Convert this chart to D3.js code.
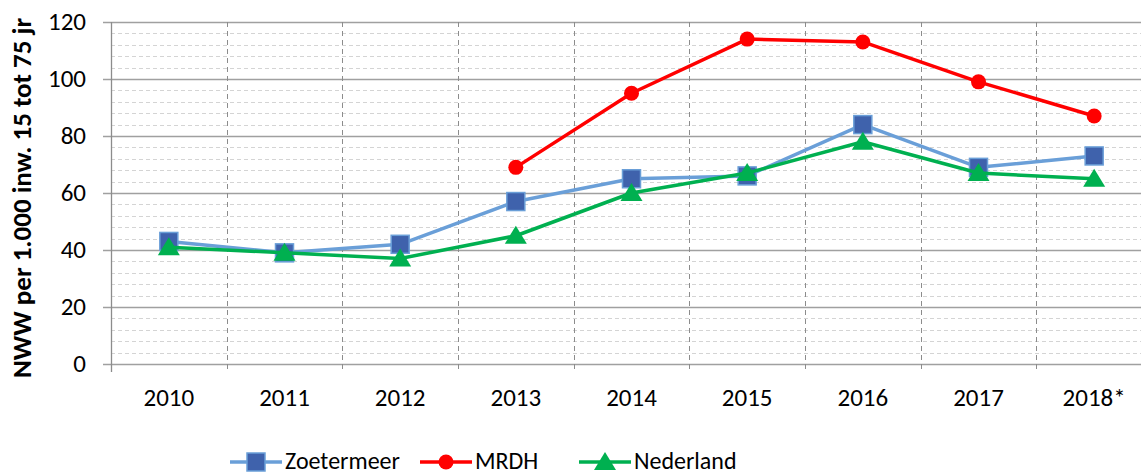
<!DOCTYPE html>
<html lang="nl">
<head>
<meta charset="utf-8">
<script src="https://cdn.jsdelivr.net/npm/d3@7"></script>
<style>
  body { margin: 0; background: #fff; }
  text { font-family: Carlito, Calibri, "Liberation Sans", sans-serif; }
</style>
</head>
<body>
<svg id="chart" width="1141" height="475"></svg>
<script>
var years = ["2010", "2011", "2012", "2013", "2014", "2015", "2016", "2017", "2018*"];
var zoetermeer = [43, 39, 42, 57, 65, 66, 84, 69, 73];
var mrdh = [null, null, null, 69, 95, 114, 113, 99, 87];
var nederland = [41, 39, 37, 45, 60, 67, 78, 67, 65];
var yTicks = [0, 20, 40, 60, 80, 100, 120];
var seriesNames = ["Zoetermeer", "MRDH", "Nederland"];

var svg = d3.select("#chart");
var plotLeft = 111, plotRight = 1152, plotTop = 22, plotBottom = 364;

var x = d3.scaleBand().domain(years).range([plotLeft, plotRight]);
var y = d3.scaleLinear().domain([0, 120]).range([plotBottom, plotTop]);

// minor gridlines
var minor = d3.range(0, 121, 4).filter(function(v) { return v % 20 != 0; });
svg.append("g").selectAll("line").data(minor).enter().append("line")
  .attr("x1", plotLeft).attr("x2", plotRight)
  .attr("y1", function(d) { return Math.round(y(d)) + 0.5; })
  .attr("y2", function(d) { return Math.round(y(d)) + 0.5; })
  .attr("stroke", "#d4d4d4").attr("stroke-width", 1)
  .attr("stroke-dasharray", "4,3");

// major gridlines
svg.append("g").selectAll("line").data(yTicks).enter().append("line")
  .attr("x1", plotLeft - 8).attr("x2", plotRight)
  .attr("y1", function(d) { return Math.round(y(d)) + 0.5; })
  .attr("y2", function(d) { return Math.round(y(d)) + 0.5; })
  .attr("stroke", "#a0a0a0").attr("stroke-width", 1.3);

// vertical dashed lines at category borders
svg.append("g").selectAll("line").data(years.slice(1)).enter().append("line")
  .attr("x1", function(d) { return Math.round(x(d)) + 0.5; })
  .attr("x2", function(d) { return Math.round(x(d)) + 0.5; })
  .attr("y1", plotTop).attr("y2", plotBottom + 8)
  .attr("stroke", "#8c8c8c").attr("stroke-width", 1)
  .attr("stroke-dasharray", "5,4");

// y axis line
svg.append("line")
  .attr("x1", plotLeft + 0.5).attr("x2", plotLeft + 0.5)
  .attr("y1", plotTop).attr("y2", plotBottom + 8)
  .attr("stroke", "#8c8c8c").attr("stroke-width", 1.3);

// y tick labels
svg.append("g").selectAll("text").data(yTicks).enter().append("text")
  .attr("x", 86).attr("y", function(d) { return y(d) + 8; })
  .attr("text-anchor", "end").attr("font-size", "25px").attr("fill", "#000")
  .text(function(d) { return d; });

// x tick labels
svg.append("g").selectAll("text").data(years).enter().append("text")
  .attr("x", function(d) { return x(d) + x.bandwidth() / 2; })
  .attr("y", 406)
  .attr("text-anchor", "middle").attr("font-size", "25px").attr("fill", "#000")
  .text(function(d) { return d; });

// y axis title
svg.append("text")
  .attr("transform", "translate(31,198) rotate(-90)")
  .attr("text-anchor", "middle").attr("font-size", "27px").attr("font-weight", "bold")
  .text("NWW per 1.000 inw. 15 tot 75 jr");

function cx(i) { return x(years[i]) + x.bandwidth() / 2; }

var line = d3.line()
  .defined(function(d) { return d != null; })
  .x(function(d, i) { return cx(i); })
  .y(function(d) { return y(d); });

var colors = { zoe: "#6a9fd8", zoeFill: "#3f62ac", mrdh: "#ff0000", ned: "#00b050" };

function marker(g, type, px, py) {
  if (type == "square") {
    g.append("rect").attr("x", px - 9).attr("y", py - 9).attr("width", 18).attr("height", 18)
      .attr("fill", colors.zoeFill).attr("stroke", colors.zoe).attr("stroke-width", 1.5);
  } else if (type == "circle") {
    g.append("circle").attr("cx", px).attr("cy", py).attr("r", 7.5).attr("fill", colors.mrdh);
  } else {
    g.append("path").attr("d", "M" + px + "," + (py - 10) + "L" + (px + 11) + "," + (py + 8) + "L" + (px - 11) + "," + (py + 8) + "Z")
      .attr("fill", colors.ned);
  }
}

var series = [
  { data: zoetermeer, color: colors.zoe, type: "square" },
  { data: mrdh, color: colors.mrdh, type: "circle" },
  { data: nederland, color: colors.ned, type: "triangle" }
];

series.forEach(function(s) {
  var g = svg.append("g");
  g.append("path").datum(s.data).attr("d", line)
    .attr("fill", "none").attr("stroke", s.color).attr("stroke-width", 3.5)
    .attr("stroke-linejoin", "round");
  s.data.forEach(function(v, i) {
    if (v != null) marker(g, s.type, cx(i), y(v));
  });
});

// legend
var legX = [230, 420, 579];
series.forEach(function(s, i) {
  var g = svg.append("g");
  var lx = legX[i], ly = 462;
  g.append("line").attr("x1", lx).attr("x2", lx + 52).attr("y1", ly).attr("y2", ly)
    .attr("stroke", s.color).attr("stroke-width", 3.5);
  marker(g, s.type, lx + 26, ly);
  g.append("text").attr("x", lx + 55).attr("y", 469)
    .attr("font-size", "24px").attr("fill", "#000").text(seriesNames[i]);
});
</script>
</body>
</html>
